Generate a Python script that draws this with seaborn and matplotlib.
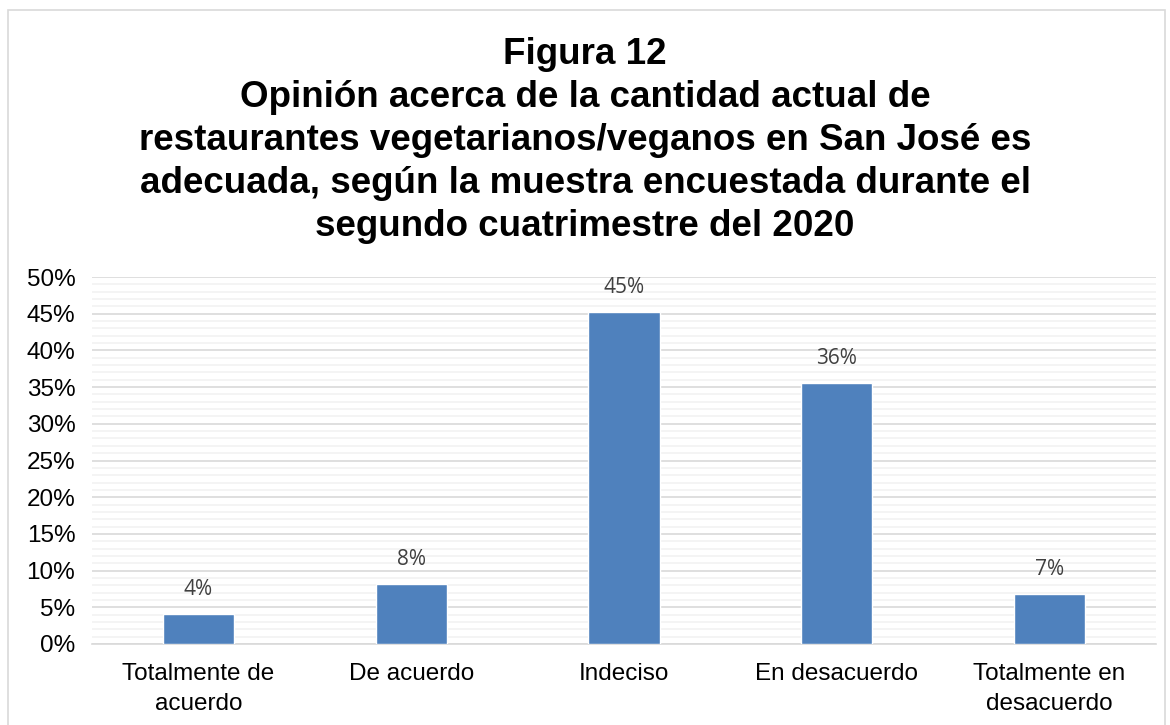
import matplotlib
matplotlib.use("Agg")
import matplotlib.pyplot as plt
from matplotlib.patches import Rectangle
from matplotlib.ticker import MultipleLocator, PercentFormatter
import seaborn as sns
import pandas as pd

# Survey answers and their share of respondents
categories = ["Totalmente de\nacuerdo", "De acuerdo", "Indeciso",
              "En desacuerdo", "Totalmente en\ndesacuerdo"]
shares = [0.041, 0.082, 0.452, 0.356, 0.068]

title_lines = [
    "Figura 12",
    "Opinión acerca de la cantidad actual de",
    "restaurantes vegetarianos/veganos en San José es",
    "adecuada, según la muestra encuestada durante el",
    "segundo cuatrimestre del 2020",
]

df = pd.DataFrame({"categoria": categories, "porcentaje": shares})

sns.set_style("white")
plt.rcParams["font.family"] = ["Liberation Sans", "DejaVu Sans"]

W, H = 1170, 725
fig = plt.figure(figsize=(W / 100, H / 100), dpi=100)
ax = fig.add_axes([92 / W, 1 - 644 / H, (1156 - 92) / W, (644 - 277) / H])

sns.barplot(data=df, x="categoria", y="porcentaje", color="#4F81BD",
            saturation=1, width=0.334, ax=ax, zorder=3)

ax.set_ylim(0, 0.5)
ax.set_xlim(-0.5, len(categories) - 0.5)
ax.yaxis.set_major_locator(MultipleLocator(0.05))
ax.yaxis.set_minor_locator(MultipleLocator(0.01))
ax.yaxis.set_major_formatter(PercentFormatter(1.0, decimals=0))
ax.grid(axis="y", which="major", color="#D9D9D9", linewidth=1.2, zorder=0)
ax.grid(axis="y", which="minor", color="#F2F2F2", linewidth=1.2, zorder=0)
ax.set_axisbelow(True)

for side in ("top", "right", "left"):
    ax.spines[side].set_visible(False)
ax.spines["bottom"].set_color("#D9D9D9")
ax.spines["bottom"].set_linewidth(1.2)

ax.set_xlabel("")
ax.set_ylabel("")
ax.tick_params(axis="both", which="both", length=0)
ax.tick_params(axis="y", labelsize=17.5, pad=12, labelcolor="#000000")
ax.tick_params(axis="x", labelsize=17.5, pad=14, labelcolor="#000000")
for lbl in ax.get_xticklabels():
    lbl.set_linespacing(1.45)

ax.bar_label(ax.containers[0], labels=[f"{v * 100:.0f}%" for v in shares],
             padding=10, fontsize=15, color="#404040", family="Open Sans")

# Title, one centred line at a time
baselines = [64, 107, 150, 193, 236]
for text, yb in zip(title_lines, baselines):
    fig.text(0.5, 1 - yb / H, text, ha="center", va="baseline",
             fontsize=26.5, fontweight="bold", color="#000000")

# Chart-area border
fig.patches.append(Rectangle((8 / W, -0.01), (1165 - 8) / W, 1 - 10 / H + 0.01,
                             transform=fig.transFigure, fill=False,
                             edgecolor="#D9D9D9", linewidth=1.2))

fig.savefig("out.png", dpi=100, facecolor="white")
